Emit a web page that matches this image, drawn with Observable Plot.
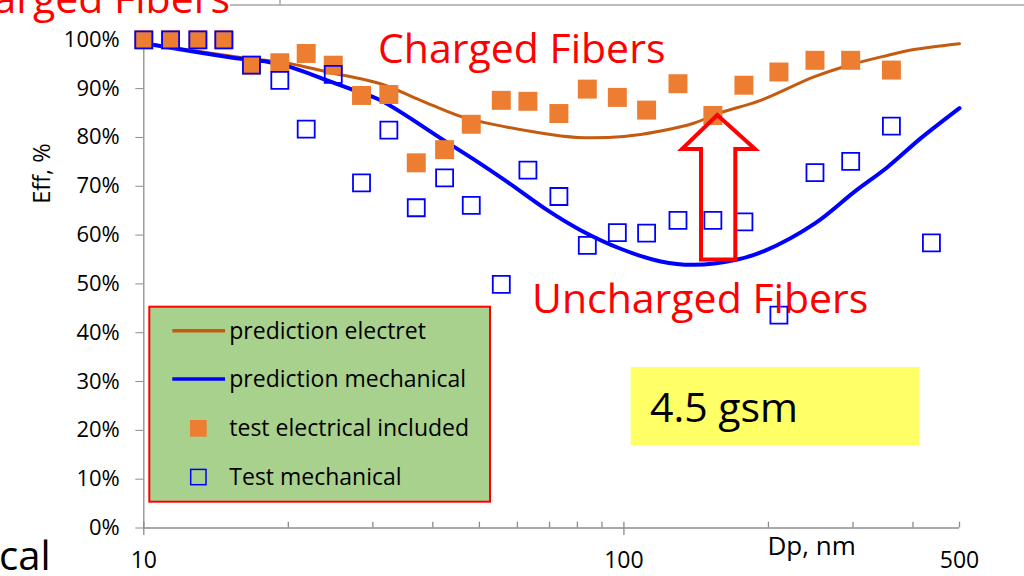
<!DOCTYPE html>
<html><head><meta charset="utf-8">
<script src="https://cdn.jsdelivr.net/npm/d3@7"></script>
<script src="https://cdn.jsdelivr.net/npm/@observablehq/plot@0.6"></script>
<style>
html,body{margin:0;padding:0;background:#fff;}
#chart{position:relative;width:1024px;height:576px;overflow:hidden;}
</style></head><body><div id="chart"></div>
<script>
// Particle diameter (nm) of the test points
const testDp = [10, 11.37, 12.96, 14.68, 16.76, 19.2, 21.79, 24.81, 28.41, 32.39, 36.94, 42.32, 48.09, 55.54, 63.1, 73.21, 83.9, 96.89, 111.5, 129.6, 153.2, 177.8, 210.3, 250, 296.7, 360.7];
const testElectrical = [100, 100, 100, 100, 94.8, 95.3, 97.2, 94.8, 88.6, 88.8, 74.8, 77.5, 82.7, 87.6, 87.4, 84.9, 89.9, 88.2, 85.6, 91.0, 84.5, 90.7, 93.4, 95.8, 95.8, 93.8];
const testMechDp = [10, 11.37, 12.96, 14.68, 16.76, 19.2, 21.79, 24.81, 28.41, 32.39, 36.94, 42.32, 48.09, 55.54, 63.1, 73.21, 83.9, 96.89, 111.5, 129.6, 153.2, 177.8, 210.3, 250, 296.7, 360.7, 437];
const testMechanical = [100, 100, 100, 100, 94.8, 91.7, 81.7, 92.9, 70.7, 81.5, 65.6, 71.7, 66.1, 49.9, 73.3, 67.9, 57.9, 60.5, 60.4, 63.0, 63.0, 62.7, 43.6, 72.8, 75.1, 82.3, 58.4];
const predElectretDp = [10, 15.91, 20.21, 24.1, 31.12, 37.72, 46.34, 57.24, 70.36, 80.06, 100, 119.3, 139.7, 156.7, 192.7, 248.8, 301.5, 353.8, 401.9, 500];
const predElectret = [99.3, 96.4, 95.1, 93.4, 91.0, 87.6, 84.1, 82.1, 80.6, 80.0, 80.2, 81.3, 82.9, 84.9, 87.6, 92.4, 95.1, 96.8, 98.0, 99.2];
const predMechDp = [10, 15.91, 18.08, 20.21, 24.1, 27.38, 31.12, 42.17, 50.29, 57.16, 69.25, 81.24, 98.42, 119.3, 139.9, 172.3, 195.8, 250.9, 301.5, 353.8, 415, 500];
const predMech = [99.3, 96.1, 95.5, 94.4, 91.7, 89.7, 87.6, 79.4, 74.6, 70.9, 65.1, 61.0, 57.2, 54.6, 53.9, 55.0, 56.7, 62.5, 68.8, 73.9, 79.8, 86.0];
const yTicks = [0, 10, 20, 30, 40, 50, 60, 70, 80, 90, 100];
const xTickLabels = [10, 100, 500];
const xMajorTicks = [10, 100];
const xMinorTicks = [20, 30, 40, 50, 60, 70, 80, 90, 200, 300, 400, 500];
const legendLabels = ["prediction electret", "prediction mechanical", "test electrical included", "Test mechanical"];

const electretLine = predElectretDp.map((x, i) => ({x, y: predElectret[i]}));
const mechLine = predMechDp.map((x, i) => ({x, y: predMech[i]}));
const elecPts = testDp.map((x, i) => ({x, y: testElectrical[i]}));
const mechPts = testMechDp.map((x, i) => ({x, y: testMechanical[i]}));

const FONT = "'Open Sans', 'Noto Sans', sans-serif";
const AX = "#8c8c8c";

const plot = Plot.plot({
  width: 1024, height: 576,
  marginLeft: 143.3, marginRight: 65, marginTop: 39.3, marginBottom: 48.5,
  style: {fontFamily: FONT, fontSize: "20px", color: "black", background: "white", overflow: "visible"},
  x: {type: "log", domain: [10, 500]},
  y: {domain: [0, 100]},
  marks: [
    Plot.ruleY([0], {x1: 10, x2: 500, stroke: AX, strokeWidth: 1.3}),
    Plot.ruleX([10], {y1: 0, y2: 100, stroke: AX, strokeWidth: 1.3}),
    Plot.ruleX(xMinorTicks, {y1: 0, y2: 1.2, stroke: AX, strokeWidth: 1.3}),
    Plot.ruleX(xMajorTicks, {y1: -1.55, y2: 1.2, stroke: AX, strokeWidth: 1.3}),
    Plot.axisY({ticks: yTicks, tickFormat: d => d + "%", tickSize: 8, tickPadding: 16, stroke: AX, fill: "black", fontSize: 22, label: null}),
    Plot.axisX({ticks: xTickLabels, tickFormat: d => String(d), tickSize: 0, tickPadding: 24, fill: "black", fontSize: 23, label: null}),
    Plot.line(electretLine, {x: "x", y: "y", stroke: "#C55A11", strokeWidth: 3, curve: "catmull-rom"}),
    Plot.line(mechLine, {x: "x", y: "y", stroke: "#0000FF", strokeWidth: 4, curve: "catmull-rom"}),
    Plot.dot(elecPts, {x: "x", y: "y", symbol: "square", r: 10.7, fill: "#ED7D31", stroke: "none"}),
    Plot.dot(mechPts, {x: "x", y: "y", symbol: "square", r: 9.6, fill: "none", stroke: "#0000FF", strokeWidth: 1.8}),
    Plot.text(["Eff, %"], {frameAnchor: "left", y: () => 66.4, dx: -101, rotate: -90, fontSize: 23.5, fill: "black"}),
    Plot.text(["Dp, nm"], {frameAnchor: "bottom", x: () => 246, dy: 27, fontSize: 26, fill: "black"})
  ]
});

document.getElementById("chart").appendChild(plot);
const svg = d3.select(plot);

function addText(t, x, y, size, color, anchor) {
  return svg.append("text").text(t).attr("x", x).attr("y", y)
    .attr("text-anchor", anchor || "start").attr("fill", color)
    .style("font-size", size + "px").style("font-family", FONT);
}

// slide artifacts at the edges
svg.append("line").attr("x1", 230).attr("x2", 1024).attr("y1", 5).attr("y2", 5).attr("stroke", "#a6a6a6").attr("stroke-width", 1.5);
svg.append("line").attr("x1", 280).attr("x2", 280).attr("y1", 0).attr("y2", 5).attr("stroke", "#a6a6a6").attr("stroke-width", 1.5);
addText("Charged Fibers", 230, 12.5, 41, "#FF0000", "end");
addText("cal", -1, 570, 40, "black");

// annotations
addText("Charged Fibers", 378, 63.3, 41, "#FF0000");
addText("Uncharged Fibers", 532, 313, 41, "#FF0000");
svg.append("path").attr("d", "M717.3,115 L755,149 L735.3,149 L735.3,259.5 L701,259.5 L701,149 L682,149 Z")
  .attr("fill", "none").attr("stroke", "#FF0000").attr("stroke-width", 4).attr("stroke-linejoin", "miter");
svg.append("rect").attr("x", 630.7).attr("y", 367).attr("width", 288.6).attr("height", 78).attr("fill", "#FFFF66");
addText("4.5 gsm", 650, 421.7, 41, "black");

// legend
const lg = svg.append("g");
lg.append("rect").attr("x", 149.3).attr("y", 306.7).attr("width", 340.7).attr("height", 195)
  .attr("fill", "#A9D18E").attr("stroke", "#FF0000").attr("stroke-width", 2);
const rows = [330.7, 379, 428.3, 477];
lg.append("line").attr("x1", 172.3).attr("x2", 225).attr("y1", rows[0]).attr("y2", rows[0]).attr("stroke", "#C55A11").attr("stroke-width", 3.5);
lg.append("line").attr("x1", 172.3).attr("x2", 225).attr("y1", rows[1]).attr("y2", rows[1]).attr("stroke", "#0000FF").attr("stroke-width", 3.5);
lg.append("rect").attr("x", 190).attr("y", rows[2] - 8.3).attr("width", 16.7).attr("height", 16.7).attr("fill", "#ED7D31");
lg.append("rect").attr("x", 190.7).attr("y", rows[3] - 7.6).attr("width", 15.3).attr("height", 15.3).attr("fill", "none").attr("stroke", "#0000FF").attr("stroke-width", 1.5);
legendLabels.forEach((t, i) => {
  lg.append("text").text(t).attr("x", 229.3).attr("y", rows[i]).attr("dy", "0.35em")
    .attr("text-anchor", "start").attr("fill", "black")
    .style("font-size", "23px").style("font-family", FONT);
});
</script></body></html>
